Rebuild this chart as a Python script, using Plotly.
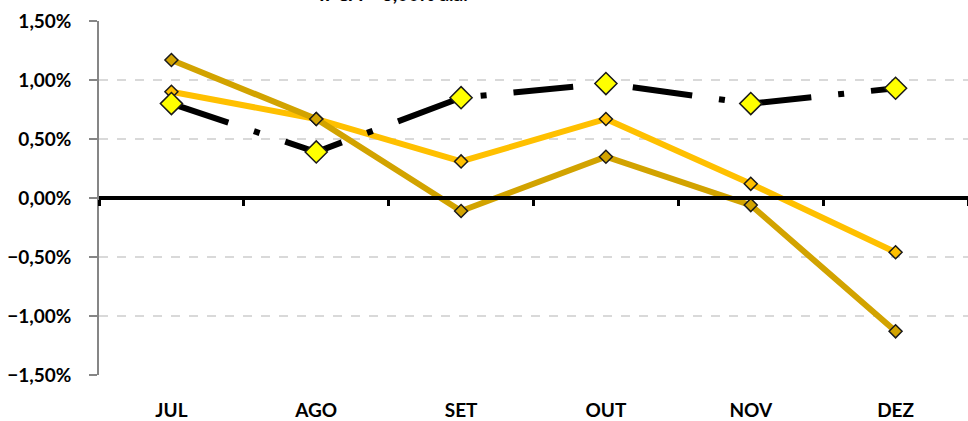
import plotly.graph_objects as go

months = ["JUL", "AGO", "SET", "OUT", "NOV", "DEZ"]
serie_clara = [0.0090, 0.0067, 0.0031, 0.0067, 0.0012, -0.0046]
serie_escura = [0.0117, 0.0067, -0.0011, 0.0035, -0.0006, -0.0113]
ipca_meta = [0.0080, 0.0039, 0.0085, 0.0097, 0.0080, 0.0093]
y_ticks = [-0.015, -0.010, -0.005, 0.0, 0.005, 0.010, 0.015]

FONT = dict(family="Lato", size=19, color="#000000", weight="bold")

fig = go.Figure()

fig.add_trace(go.Scatter(
    x=months, y=serie_clara, mode="lines+markers", name="Série 1",
    line=dict(color="#FFC000", width=6),
    marker=dict(symbol="diamond", size=10, color="#FFC000",
                line=dict(color="#1A1A1A", width=1.5)),
    showlegend=False,
))
fig.add_trace(go.Scatter(
    x=months, y=serie_escura, mode="lines+markers", name="Série 2",
    line=dict(color="#D2A300", width=6),
    marker=dict(symbol="diamond", size=10, color="#D2A300",
                line=dict(color="#1A1A1A", width=1.5)),
    showlegend=False,
))
fig.add_trace(go.Scatter(
    x=months, y=ipca_meta, mode="lines+markers", name="IPCA + 6,00% a.a.",
    line=dict(color="#000000", width=6, dash="60px,27px,6px,27px"),
    marker=dict(symbol="diamond", size=17, color="#FFFF00",
                line=dict(color="#1A1A1A", width=1.5)),
    showlegend=False,
))
# invisible trace to carry the zero-line category axis
fig.add_trace(go.Scatter(
    x=months, y=[None] * len(months), xaxis="x2", mode="lines",
    showlegend=False, hoverinfo="skip",
))

fig.update_layout(
    width=968, height=421,
    margin=dict(l=99, r=0, t=21, b=46, autoexpand=False),
    paper_bgcolor="white", plot_bgcolor="white",
    separators=",.",
    showlegend=False,
    xaxis=dict(
        type="category", categoryorder="array", categoryarray=months,
        range=[-0.5, 5.5], showline=False, showgrid=False, zeroline=False,
        ticks="outside", ticklen=18, tickcolor="rgba(0,0,0,0)",
        tickfont=FONT, automargin=False, ticklabeloverflow="allow",
    ),
    xaxis2=dict(
        type="category", categoryorder="array", categoryarray=months,
        overlaying="x", matches="x", anchor="free", position=0.5,
        range=[-0.5, 5.5], showline=True, linecolor="#000000", linewidth=4,
        showgrid=False, zeroline=False, tickson="boundaries",
        ticks="outside", ticklen=6, tickwidth=3, tickcolor="#000000",
        showticklabels=False, automargin=False,
    ),
    yaxis=dict(
        range=[-0.015, 0.015], tickvals=y_ticks, tickformat=".2%",
        showline=True, linecolor="#868686", linewidth=1.5,
        ticks="outside", ticklen=8, tickcolor="#868686", tickwidth=1.5,
        ticklabelstandoff=14, ticklabeloverflow="allow",
        showgrid=True, gridcolor="#D9D9D9", gridwidth=1.5, griddash="dash",
        zeroline=False, tickfont=FONT, automargin=False,
    ),
    annotations=[dict(
        text="IPCA + 6,00% a.a.", xref="paper", yref="paper",
        x=(393 - 99) / 869, y=1 + (21 + 6) / 354,
        xanchor="center", yanchor="middle", showarrow=False,
        font=FONT,
    )],
)

fig.write_html(
    "out.html",
    config={"displayModeBar": False},
    post_script="document.body.style.margin='0';",
)
